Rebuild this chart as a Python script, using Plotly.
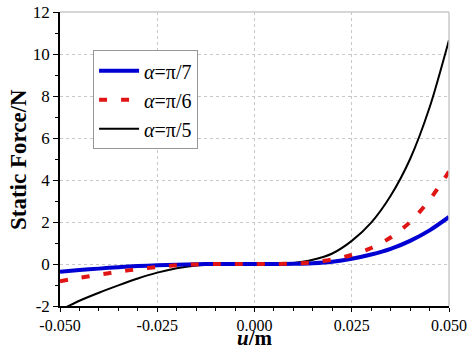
import plotly.graph_objects as go

u = [-0.05, -0.045, -0.04, -0.035, -0.03, -0.025, -0.02, -0.015, -0.01, -0.005, 0.0,
     0.005, 0.01, 0.015, 0.02, 0.025, 0.03, 0.035, 0.04, 0.045, 0.05]

f_pi7 = [-0.37, -0.29, -0.22, -0.15, -0.10, -0.06, -0.03, -0.01, 0.0, 0.0, 0.0,
         0.0, 0.01, 0.04, 0.11, 0.25, 0.45, 0.72, 1.10, 1.60, 2.24]
f_pi6 = [-0.82, -0.66, -0.51, -0.37, -0.24, -0.14, -0.06, -0.02, 0.0, 0.0, 0.0,
         0.0, 0.02, 0.08, 0.22, 0.43, 0.76, 1.26, 2.0, 3.05, 4.4]
f_pi5 = [-2.2, -1.75, -1.37, -1.02, -0.69, -0.41, -0.20, -0.07, -0.02, 0.0, 0.0,
         0.0, 0.05, 0.20, 0.50, 1.10, 1.97, 3.25, 5.0, 7.45, 10.67]

labels = ["<i>α</i>=π/7", "<i>α</i>=π/6", "<i>α</i>=π/5"]
x_title = "<b><i>u</i>/m</b>"
y_title = "<b>Static Force/N</b>"

x_ticks = [-0.05, -0.025, 0.0, 0.025, 0.05]
x_ticktext = ["-0.050", "-0.025", "0.000", "0.025", "0.050"]
y_ticks = [-2, 0, 2, 4, 6, 8, 10, 12]
y_ticktext = ["-2", "0", "2", "4", "6", "8", "10", "12"]

fig = go.Figure()
fig.add_trace(go.Scatter(x=u, y=f_pi5, mode="lines", name=labels[2], legendrank=3,
                         line=dict(color="black", width=2, shape="spline", smoothing=0.8)))
fig.add_trace(go.Scatter(x=u, y=f_pi7, mode="lines", name=labels[0], legendrank=1,
                         line=dict(color="rgb(0,0,210)", width=4, shape="spline", smoothing=0.8)))
fig.add_trace(go.Scatter(x=u, y=f_pi6, mode="lines", name=labels[1], legendrank=2,
                         line=dict(color="rgb(225,20,20)", width=4, dash="8px,14px",
                                   shape="spline", smoothing=0.8)))

font = "Liberation Serif"
fig.update_layout(
    width=476, height=351,
    margin=dict(l=60, r=27, t=12, b=45),
    paper_bgcolor="white", plot_bgcolor="white",
    font=dict(family=font, size=17, color="black"),
    showlegend=True,
    legend=dict(x=0.085, y=0.87, xanchor="left", yanchor="top",
                bgcolor="white", bordercolor="rgb(150,150,150)", borderwidth=1,
                font=dict(family=font, size=20, color="black"),
                tracegroupgap=0, itemwidth=40),
    xaxis=dict(range=[-0.05, 0.05], tickvals=x_ticks, ticktext=x_ticktext, automargin=False,
               showline=True, linecolor="black", linewidth=1.5,
               ticks="outside", ticklen=4, tickwidth=1, tickcolor="black",
               tickfont=dict(size=16),
               minor=dict(dtick=0.005, tick0=0, ticks="outside", ticklen=3, tickcolor="black", showgrid=False),
               showgrid=True, gridcolor="rgb(200,200,200)", griddash="dot", gridwidth=1,
               zeroline=False),
    yaxis=dict(range=[-2, 12], tickvals=y_ticks, ticktext=y_ticktext, automargin=False,
               showline=True, linecolor="black", linewidth=1.5,
               ticks="outside", ticklen=5, tickwidth=1, tickcolor="black",
               minor=dict(dtick=1, tick0=0, ticks="outside", ticklen=3, tickcolor="black", showgrid=False),
               showgrid=True, gridcolor="rgb(200,200,200)", griddash="dot", gridwidth=1,
               zeroline=False),
    annotations=[
        dict(text=x_title, xref="paper", yref="paper", x=0.5, y=-0.153,
             xanchor="center", yanchor="bottom", showarrow=False, borderpad=0,
             font=dict(family=font, size=21, color="black")),
        dict(text=y_title, xref="paper", yref="paper", x=-0.108, y=0.5,
             xanchor="center", yanchor="middle", showarrow=False, textangle=-90,
             font=dict(family=font, size=23, color="black")),
    ],
    shapes=[
        dict(type="line", xref="x domain", yref="y domain", x0=0, x1=1, y0=1, y1=1,
             line=dict(color="rgb(200,200,200)", width=1.5)),
        dict(type="line", xref="x domain", yref="y domain", x0=1, x1=1, y0=0, y1=1,
             line=dict(color="rgb(200,200,200)", width=1.5)),
    ],
)

fig.write_html("out.html")
